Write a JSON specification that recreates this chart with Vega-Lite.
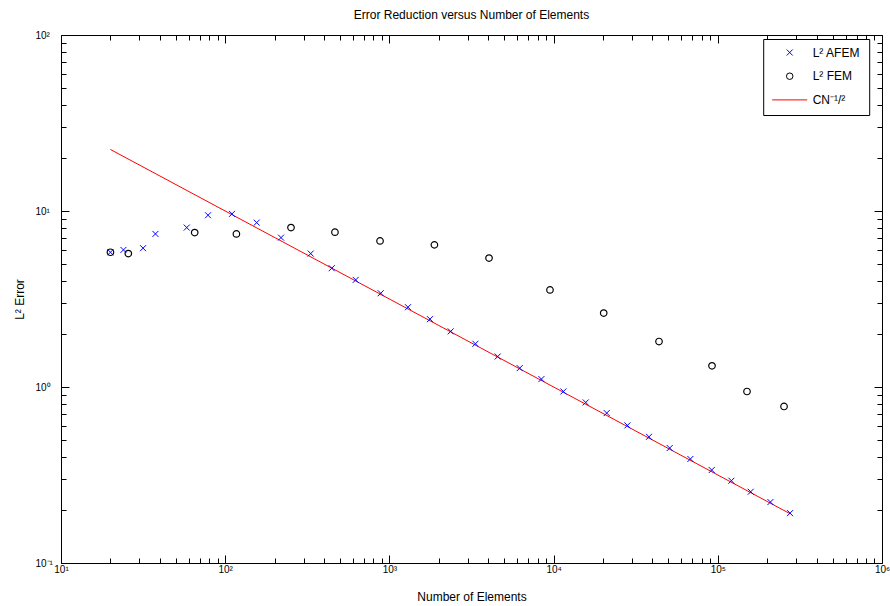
{
  "$schema": "https://vega.github.io/schema/vega-lite/v6.json",
  "width": 821,
  "height": 528,
  "autosize": {"type": "none"},
  "padding": {"left": 61, "top": 35, "right": 8, "bottom": 43},
  "background": "white",
  "title": {"text": "Error Reduction versus Number of Elements", "fontSize": 12, "fontWeight": "normal", "font": "Liberation Sans", "color": "black", "anchor": "middle", "offset": 8.5},
  "datasets": {
    "afem": [
      {"series": "L² AFEM", "N": 20, "err": 5.83},
      {"series": "L² AFEM", "N": 24.0, "err": 6.01},
      {"series": "L² AFEM", "N": 31.6, "err": 6.15},
      {"series": "L² AFEM", "N": 37.6, "err": 7.41},
      {"series": "L² AFEM", "N": 58.3, "err": 8.05},
      {"series": "L² AFEM", "N": 78.6, "err": 9.46},
      {"series": "L² AFEM", "N": 110, "err": 9.63},
      {"series": "L² AFEM", "N": 155.5, "err": 8.59},
      {"series": "L² AFEM", "N": 218.7, "err": 7.06},
      {"series": "L² AFEM", "N": 331.7, "err": 5.73},
      {"series": "L² AFEM", "N": 445.3, "err": 4.73},
      {"series": "L² AFEM", "N": 623.4, "err": 4.06},
      {"series": "L² AFEM", "N": 885, "err": 3.41},
      {"series": "L² AFEM", "N": 1298, "err": 2.84},
      {"series": "L² AFEM", "N": 1767, "err": 2.43},
      {"series": "L² AFEM", "N": 2362, "err": 2.07},
      {"series": "L² AFEM", "N": 3340, "err": 1.76},
      {"series": "L² AFEM", "N": 4565, "err": 1.49},
      {"series": "L² AFEM", "N": 6218, "err": 1.28},
      {"series": "L² AFEM", "N": 8428, "err": 1.109},
      {"series": "L² AFEM", "N": 11470, "err": 0.943},
      {"series": "L² AFEM", "N": 15690, "err": 0.817},
      {"series": "L² AFEM", "N": 21060, "err": 0.711},
      {"series": "L² AFEM", "N": 28150, "err": 0.605},
      {"series": "L² AFEM", "N": 38110, "err": 0.521},
      {"series": "L² AFEM", "N": 50950, "err": 0.45},
      {"series": "L² AFEM", "N": 68100, "err": 0.39},
      {"series": "L² AFEM", "N": 91810, "err": 0.3374},
      {"series": "L² AFEM", "N": 121000, "err": 0.2934},
      {"series": "L² AFEM", "N": 158600, "err": 0.254},
      {"series": "L² AFEM", "N": 209200, "err": 0.222},
      {"series": "L² AFEM", "N": 275300, "err": 0.192}
    ],
    "fem": [
      {"series": "L² FEM", "N": 20, "err": 5.83},
      {"series": "L² FEM", "N": 25.7, "err": 5.73},
      {"series": "L² FEM", "N": 65.2, "err": 7.54},
      {"series": "L² FEM", "N": 117, "err": 7.41},
      {"series": "L² FEM", "N": 251.6, "err": 8.05},
      {"series": "L² FEM", "N": 466, "err": 7.58},
      {"series": "L² FEM", "N": 877, "err": 6.76},
      {"series": "L² FEM", "N": 1880, "err": 6.42},
      {"series": "L² FEM", "N": 4043, "err": 5.4},
      {"series": "L² FEM", "N": 9506, "err": 3.56},
      {"series": "L² FEM", "N": 20190, "err": 2.63},
      {"series": "L² FEM", "N": 43850, "err": 1.813},
      {"series": "L² FEM", "N": 92190, "err": 1.319},
      {"series": "L² FEM", "N": 150600, "err": 0.943},
      {"series": "L² FEM", "N": 253100, "err": 0.775}
    ],
    "fit": [
      {"series": "CN⁻¹/²", "N": 20, "err": 22.36},
      {"series": "CN⁻¹/²", "N": 275300, "err": 0.1906}
    ]
  },
  "resolve": {"axis": {"x": "independent", "y": "independent"}},
  "layer": [
    {
      "data": {"name": "fit"},
      "mark": {"type": "line", "strokeWidth": 1, "opacity": 1},
      "encoding": {
        "x": {"field": "N", "type": "quantitative", "scale": {"type": "log", "domain": [10, 1000000], "nice": false},
          "axis": {"orient": "top", "values": [10,20,30,40,50,60,70,80,90,100,200,300,400,500,600,700,800,900,1000,2000,3000,4000,5000,6000,7000,8000,9000,10000,20000,30000,40000,50000,60000,70000,80000,90000,100000,200000,300000,400000,500000,600000,700000,800000,900000,1000000],
            "labels": false, "title": null, "domain": true,
            "tickSize": {"condition": {"test": "abs(log(datum.value)/LN10 - round(log(datum.value)/LN10)) < 0.001", "value": -8}, "value": -5}}},
        "y": {"field": "err", "type": "quantitative", "scale": {"type": "log", "domain": [0.1, 100], "nice": false},
          "axis": {"orient": "right", "values": [0.1,0.2,0.3,0.4,0.5,0.6,0.7,0.8,0.9,1,2,3,4,5,6,7,8,9,10,20,30,40,50,60,70,80,90,100],
            "labels": false, "title": null, "domain": true,
            "tickSize": {"condition": {"test": "abs(log(datum.value)/LN10 - round(log(datum.value)/LN10)) < 0.001", "value": -8}, "value": -5}}},
        "color": {"field": "series", "type": "nominal",
          "scale": {"domain": ["L² AFEM", "L² FEM", "CN⁻¹/²"], "range": ["#0000ff", "#000000", "#ff0000"]},
          "legend": {"title": null, "orient": "none", "legendX": 702.2, "legendY": 4,
            "encode": {"symbols": {"update": {"fill": {"value": "transparent"}, "strokeWidth": {"value": 1}}}}}}
      }
    },
    {
      "data": {"name": "afem"},
      "mark": {"type": "point", "filled": false, "strokeWidth": 1, "opacity": 1},
      "encoding": {
        "x": {"field": "N", "type": "quantitative", "scale": {"type": "log", "domain": [10, 1000000], "nice": false},
          "axis": {"orient": "bottom", "values": [10,20,30,40,50,60,70,80,90,100,200,300,400,500,600,700,800,900,1000,2000,3000,4000,5000,6000,7000,8000,9000,10000,20000,30000,40000,50000,60000,70000,80000,90000,100000,200000,300000,400000,500000,600000,700000,800000,900000,1000000],
            "labelExpr": "abs(log(datum.value)/LN10 - round(log(datum.value)/LN10)) > 0.001 ? '' : '10' + (round(log(datum.value)/LN10) < 0 ? '⁻' : '') + ['⁰','¹','²','³','⁴','⁵','⁶'][abs(round(log(datum.value)/LN10))]",
            "tickSize": {"condition": {"test": "abs(log(datum.value)/LN10 - round(log(datum.value)/LN10)) < 0.001", "value": -8}, "value": -5},
            "labelPadding": 9, "labelBaseline": "top", "labelAlign": "center", "labelFlush": false, "labelOverlap": false, "labelBound": false,
            "title": "Number of Elements", "titlePadding": 14, "domain": true}},
        "y": {"field": "err", "type": "quantitative", "scale": {"type": "log", "domain": [0.1, 100], "nice": false},
          "axis": {"orient": "left", "values": [0.1,0.2,0.3,0.4,0.5,0.6,0.7,0.8,0.9,1,2,3,4,5,6,7,8,9,10,20,30,40,50,60,70,80,90,100],
            "labelExpr": "abs(log(datum.value)/LN10 - round(log(datum.value)/LN10)) > 0.001 ? '' : '10' + (round(log(datum.value)/LN10) < 0 ? '⁻' : '') + ['⁰','¹','²','³','⁴','⁵','⁶'][abs(round(log(datum.value)/LN10))]",
            "tickSize": {"condition": {"test": "abs(log(datum.value)/LN10 - round(log(datum.value)/LN10)) < 0.001", "value": -8}, "value": -5},
            "labelPadding": 34, "labelAlign": "left", "labelBaseline": "middle", "labelFlush": false, "labelOverlap": false, "labelBound": false,
            "title": "L² Error", "titlePadding": 6, "domain": true}},
        "color": {"field": "series", "type": "nominal",
          "scale": {"domain": ["L² AFEM", "L² FEM", "CN⁻¹/²"], "range": ["#0000ff", "#000000", "#ff0000"]},
          "legend": {"title": null, "orient": "none", "legendX": 702.2, "legendY": 4,
            "encode": {"symbols": {"update": {"fill": {"value": "transparent"}, "strokeWidth": {"value": 1}}}}}},
        "shape": {"field": "series", "type": "nominal",
          "scale": {"domain": ["L² AFEM", "L² FEM", "CN⁻¹/²"], "range": ["M-1,-1L1,1M-1,1L1,-1", "circle", "M-5,0L5,0"]},
          "legend": {"title": null, "orient": "none", "legendX": 702.2, "legendY": 4,
            "encode": {"symbols": {"update": {"fill": {"value": "transparent"}, "strokeWidth": {"value": 1}}}}}},
        "size": {"field": "series", "type": "nominal",
          "scale": {"domain": ["L² AFEM", "L² FEM", "CN⁻¹/²"], "range": [36, 49, 64]},
          "legend": {"title": null, "orient": "none", "legendX": 702.2, "legendY": 4,
            "encode": {"symbols": {"update": {"fill": {"value": "transparent"}, "strokeWidth": {"value": 1}}}}}}
      }
    },
    {
      "data": {"name": "fem"},
      "mark": {"type": "point", "filled": false, "strokeWidth": 1.2, "opacity": 1},
      "encoding": {
        "x": {"field": "N", "type": "quantitative", "scale": {"type": "log", "domain": [10, 1000000], "nice": false}, "axis": null},
        "y": {"field": "err", "type": "quantitative", "scale": {"type": "log", "domain": [0.1, 100], "nice": false}, "axis": null},
        "color": {"field": "series", "type": "nominal",
          "scale": {"domain": ["L² AFEM", "L² FEM", "CN⁻¹/²"], "range": ["#0000ff", "#000000", "#ff0000"]}},
        "shape": {"field": "series", "type": "nominal",
          "scale": {"domain": ["L² AFEM", "L² FEM", "CN⁻¹/²"], "range": ["M-1,-1L1,1M-1,1L1,-1", "circle", "M-5,0L5,0"]}},
        "size": {"field": "series", "type": "nominal",
          "scale": {"domain": ["L² AFEM", "L² FEM", "CN⁻¹/²"], "range": [36, 49, 64]}}
      }
    }
  ],
  "config": {
    "view": {"stroke": null},
    "font": "Liberation Sans",
    "axis": {"domainColor": "black", "domainWidth": 1, "tickColor": "black", "tickWidth": 1, "labelColor": "black", "labelFont": "Liberation Sans", "labelFontSize": 10, "titleFont": "Liberation Sans", "titleFontSize": 12, "titleFontWeight": "normal", "titleColor": "black", "grid": false},
    "legend": {"padding": 8.5, "strokeColor": "black", "fillColor": "white", "cornerRadius": 0, "labelFont": "Liberation Sans", "labelFontSize": 12, "labelColor": "black", "labelOffset": 17, "symbolOffset": 12, "rowPadding": 11.7, "clipHeight": 10, "symbolStrokeWidth": 1}
  }
}
